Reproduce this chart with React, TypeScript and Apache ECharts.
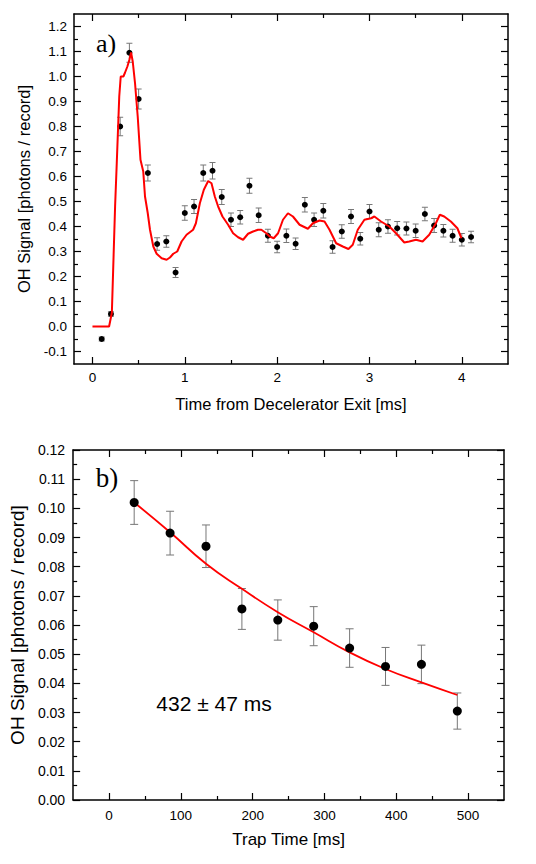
import React, { useEffect, useRef } from 'react';
import * as echarts from 'echarts';

// ---- Panel a) : OH signal vs time from decelerator exit ----
const timeA = [0.1, 0.2, 0.3, 0.4, 0.5, 0.6, 0.7, 0.8, 0.9, 1.0, 1.1, 1.2, 1.3, 1.4, 1.5, 1.6, 1.7, 1.8, 1.9, 2.0, 2.1, 2.2, 2.3, 2.4, 2.5, 2.6, 2.7, 2.8, 2.9, 3.0, 3.1, 3.2, 3.3, 3.4, 3.5, 3.6, 3.7, 3.8, 3.9, 4.0, 4.1];
const signalA = [-0.05, 0.05, 0.8, 1.095, 0.91, 0.614, 0.33, 0.34, 0.216, 0.454, 0.48, 0.614, 0.623, 0.518, 0.427, 0.437, 0.563, 0.445, 0.363, 0.318, 0.363, 0.331, 0.487, 0.427, 0.463, 0.318, 0.38, 0.44, 0.351, 0.46, 0.387, 0.4, 0.393, 0.392, 0.383, 0.45, 0.404, 0.383, 0.363, 0.347, 0.358];
const errA = [0.008, 0.009, 0.037, 0.038, 0.04, 0.032, 0.025, 0.023, 0.02, 0.029, 0.028, 0.032, 0.033, 0.03, 0.027, 0.027, 0.03, 0.029, 0.026, 0.023, 0.027, 0.023, 0.029, 0.027, 0.029, 0.025, 0.027, 0.028, 0.025, 0.028, 0.028, 0.027, 0.027, 0.026, 0.027, 0.027, 0.028, 0.025, 0.026, 0.025, 0.023];

const simTime = [0.0, 0.18, 0.21, 0.245, 0.263, 0.29, 0.306, 0.335, 0.353, 0.378, 0.4, 0.418, 0.436, 0.461, 0.49, 0.52, 0.55, 0.569, 0.598, 0.623, 0.659, 0.695, 0.749, 0.803, 0.839, 0.875, 0.918, 0.965, 1.019, 1.09, 1.12, 1.163, 1.206, 1.253, 1.289, 1.325, 1.361, 1.408, 1.469, 1.523, 1.577, 1.631, 1.685, 1.739, 1.793, 1.829, 1.883, 1.92, 1.963, 2.01, 2.063, 2.117, 2.171, 2.243, 2.333, 2.387, 2.459, 2.513, 2.567, 2.639, 2.711, 2.772, 2.819, 2.873, 2.945, 3.017, 3.053, 3.125, 3.215, 3.287, 3.377, 3.431, 3.503, 3.575, 3.647, 3.719, 3.762, 3.809, 3.881, 3.952, 3.996];
const simSignal = [0.0, 0.0, 0.055, 0.48, 0.653, 0.92, 1.0, 1.0, 1.016, 1.04, 1.067, 1.096, 1.06, 0.973, 0.84, 0.667, 0.62, 0.52, 0.455, 0.387, 0.32, 0.291, 0.273, 0.267, 0.276, 0.291, 0.3, 0.34, 0.367, 0.387, 0.413, 0.493, 0.547, 0.582, 0.573, 0.52, 0.48, 0.44, 0.407, 0.373, 0.357, 0.347, 0.371, 0.38, 0.387, 0.387, 0.373, 0.36, 0.353, 0.373, 0.427, 0.453, 0.44, 0.407, 0.391, 0.413, 0.424, 0.42, 0.387, 0.333, 0.32, 0.31, 0.327, 0.387, 0.427, 0.433, 0.44, 0.42, 0.4, 0.373, 0.336, 0.34, 0.347, 0.34, 0.367, 0.413, 0.447, 0.44, 0.42, 0.393, 0.353];

const xTicksA = [0, 1, 2, 3, 4];
const xMinorA = [0.5, 1.5, 2.5, 3.5];
const yTicksA = [-0.1, 0.0, 0.1, 0.2, 0.3, 0.4, 0.5, 0.6, 0.7, 0.8, 0.9, 1.0, 1.1, 1.2];
const yMinorA = [-0.05, 0.05, 0.15, 0.25, 0.35, 0.45, 0.55, 0.65, 0.75, 0.85, 0.95, 1.05, 1.15];

// ---- Panel b) : OH signal vs trap time ----
const trapTime = [35, 85, 135, 185, 235, 285, 335, 385, 435, 485];
const trapSignal = [0.102, 0.0915, 0.087, 0.0655, 0.0617, 0.0596, 0.0521, 0.0458, 0.0465, 0.0305];
const trapErr = [0.0075, 0.0075, 0.0073, 0.007, 0.0069, 0.0067, 0.0066, 0.0065, 0.0066, 0.0062];
const fitTime = [35, 85, 135, 185, 235, 285, 335, 385, 435, 485];
const fitSignal = [0.102, 0.0918, 0.081, 0.0724, 0.0644, 0.0575, 0.0506, 0.0449, 0.0403, 0.036];

const xTicksB = [0, 100, 200, 300, 400, 500];
const xMinorB = [50, 150, 250, 350, 450];
const yTicksB = [0.0, 0.01, 0.02, 0.03, 0.04, 0.05, 0.06, 0.07, 0.08, 0.09, 0.1, 0.11, 0.12];
const yMinorB = [0.005, 0.015, 0.025, 0.035, 0.045, 0.055, 0.065, 0.075, 0.085, 0.095, 0.105, 0.115];

const lifetimeLabel = '432 ± 47 ms';

const SANS = 'Liberation Sans, Arial, sans-serif';
const SERIF = 'Liberation Serif, Times New Roman, serif';
const AX = '#000';

function makeAxes(
  dim: 'x' | 'y', grid: number, min: number, max: number,
  majors: number[], minors: number[], fmt: (v: number) => string,
  labelSize: number, labelMargin: number, name: string, nameSize: number, nameGap: number,
) {
  const posA = dim === 'x' ? 'bottom' : 'left';
  const posB = dim === 'x' ? 'top' : 'right';
  const base = {
    type: 'value', gridIndex: grid, min, max,
    splitLine: { show: false }, minorTick: { show: false }, minorSplitLine: { show: false },
  };
  const major = (pos: string, labels: boolean) => ({
    ...base, position: pos,
    axisLine: { show: true, onZero: false, lineStyle: { color: AX, width: 1.5 } },
    axisTick: { show: true, inside: true, length: 7, customValues: majors, lineStyle: { color: AX, width: 1.2 } },
    axisLabel: labels
      ? { show: true, customValues: majors, formatter: (v: number) => fmt(v), fontFamily: SANS, fontSize: labelSize, color: '#000', margin: labelMargin }
      : { show: false },
    name: labels ? name : '',
    nameLocation: 'middle', nameGap,
    nameTextStyle: { fontFamily: SANS, fontSize: nameSize, color: '#000' },
  });
  const minor = (pos: string) => ({
    ...base, position: pos,
    axisLine: { show: false, onZero: false },
    axisTick: { show: true, inside: true, length: 4, customValues: minors, lineStyle: { color: AX, width: 1.2 } },
    axisLabel: { show: false },
  });
  return [major(posA, true), minor(posA), major(posB, false), minor(posB)];
}

function errRender(capHalf: number) {
  return (params: any, api: any) => {
    const x = api.value(0), y = api.value(1), e = api.value(2);
    const top = api.coord([x, y + e]);
    const bot = api.coord([x, y - e]);
    const style = { stroke: '#777', lineWidth: 1, fill: 'none' };
    return {
      type: 'group',
      children: [
        { type: 'line', shape: { x1: top[0], y1: top[1], x2: bot[0], y2: bot[1] }, style },
        { type: 'line', shape: { x1: top[0] - capHalf, y1: top[1], x2: top[0] + capHalf, y2: top[1] }, style },
        { type: 'line', shape: { x1: bot[0] - capHalf, y1: bot[1], x2: bot[0] + capHalf, y2: bot[1] }, style },
      ],
    };
  };
}

export default function App() {
  const ref = useRef<HTMLDivElement>(null);
  useEffect(() => {
    if (!ref.current) return;
    const chart = echarts.init(ref.current, null, { renderer: 'svg' });
    const xAxes = [
      ...makeAxes('x', 0, -0.2, 4.5, xTicksA, xMinorA, (v) => String(Math.round(v)), 13.5, 6, 'Time from Decelerator Exit [ms]', 16.5, 31),
      ...makeAxes('x', 1, -50, 550, xTicksB, xMinorB, (v) => String(Math.round(v)), 13.5, 8, 'Trap Time [ms]', 17, 31),
    ];
    const yAxes = [
      ...makeAxes('y', 0, -0.15, 1.25, yTicksA, yMinorA, (v) => v.toFixed(1), 13.5, 7, 'OH Signal [photons / record]', 16.5, 40),
      ...makeAxes('y', 1, 0, 0.12, yTicksB, yMinorB, (v) => v.toFixed(2), 14, 8, 'OH Signal [photons / record]', 19, 42),
    ];
    const option: any = {
      animation: false,
      grid: [
        { left: 74, right: 28, top: 14, height: 350 },
        { left: 72, right: 32, top: 450, height: 350 },
      ],
      xAxis: xAxes,
      yAxis: yAxes,
      series: [
        {
          type: 'custom', xAxisIndex: 0, yAxisIndex: 0, silent: true, z: 1,
          renderItem: errRender(3), encode: { x: 0, y: 1 },
          data: timeA.map((t, i) => [t, signalA[i], errA[i]]),
        },
        {
          type: 'scatter', xAxisIndex: 0, yAxisIndex: 0, silent: true, z: 2,
          symbol: 'circle', symbolSize: 6, itemStyle: { color: '#000', opacity: 1 },
          data: timeA.map((t, i) => [t, signalA[i]]),
        },
        {
          type: 'line', xAxisIndex: 0, yAxisIndex: 0, silent: true, z: 3,
          showSymbol: false, lineStyle: { color: '#ff0000', width: 2 },
          data: simTime.map((t, i) => [t, simSignal[i]]),
        },
        {
          type: 'custom', xAxisIndex: 4, yAxisIndex: 4, silent: true, z: 1,
          renderItem: errRender(4), encode: { x: 0, y: 1 },
          data: trapTime.map((t, i) => [t, trapSignal[i], trapErr[i]]),
        },
        {
          type: 'line', xAxisIndex: 4, yAxisIndex: 4, silent: true, z: 2, smooth: true,
          showSymbol: false, lineStyle: { color: '#ff0000', width: 1.8 },
          data: fitTime.map((t, i) => [t, fitSignal[i]]),
        },
        {
          type: 'scatter', xAxisIndex: 4, yAxisIndex: 4, silent: true, z: 3,
          symbol: 'circle', symbolSize: 9, itemStyle: { color: '#000', opacity: 1 },
          data: trapTime.map((t, i) => [t, trapSignal[i]]),
        },
      ],
      graphic: [
        { type: 'text', x: 106, y: 43, style: { text: 'a)', font: `26px ${SERIF}`, fill: '#000', textAlign: 'center', textVerticalAlign: 'middle' } },
        { type: 'text', x: 107, y: 478, style: { text: 'b)', font: `27px ${SERIF}`, fill: '#000', textAlign: 'center', textVerticalAlign: 'middle' } },
        { type: 'text', x: 214, y: 703, style: { text: lifetimeLabel, font: `21px ${SANS}`, fill: '#000', textAlign: 'center', textVerticalAlign: 'middle' } },
      ],
    };
    chart.setOption(option);
    return () => chart.dispose();
  }, []);
  return <div ref={ref} style={{ position: 'fixed', left: 0, top: 0, width: 536, height: 864, background: '#fff' }} />;
}
